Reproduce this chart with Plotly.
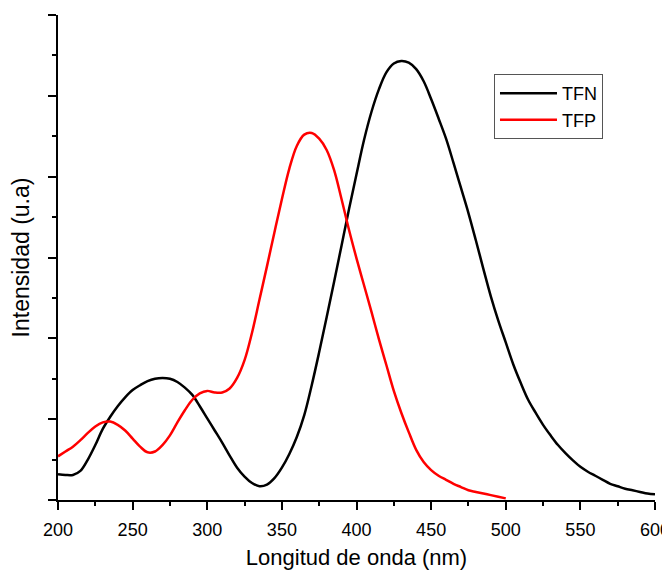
import plotly.graph_objects as go

# Wavelength grid (nm) and readings
wl_tfn = list(range(200, 601, 5))
tfn = [0.32, 0.31, 0.31, 0.36, 0.50, 0.68, 0.88, 1.03, 1.16, 1.27, 1.36, 1.42, 1.47, 1.50, 1.51, 1.50,
       1.46, 1.39, 1.30, 1.16, 1.01, 0.86, 0.71, 0.55, 0.40, 0.29, 0.21, 0.17, 0.19, 0.27, 0.40, 0.57,
       0.78, 1.05, 1.42, 1.83, 2.26, 2.70, 3.15, 3.60, 4.03, 4.45, 4.80, 5.08, 5.29, 5.40, 5.43, 5.41,
       5.33, 5.18, 4.96, 4.72, 4.47, 4.17, 3.86, 3.55, 3.21, 2.86, 2.52, 2.22, 1.95, 1.68, 1.45, 1.24,
       1.08, 0.93, 0.80, 0.68, 0.58, 0.49, 0.41, 0.35, 0.30, 0.25, 0.20, 0.17, 0.14, 0.12, 0.10, 0.08, 0.07]

wl_tfp = list(range(200, 501, 5))
tfp = [0.54, 0.60, 0.66, 0.74, 0.83, 0.91, 0.96, 0.97, 0.93, 0.86, 0.76, 0.66, 0.59, 0.60, 0.68, 0.80,
       0.96, 1.11, 1.24, 1.32, 1.35, 1.33, 1.33, 1.38, 1.51, 1.73, 2.07, 2.48, 2.89, 3.31, 3.72, 4.10,
       4.38, 4.52, 4.54, 4.47, 4.33, 4.08, 3.72, 3.34, 2.99, 2.66, 2.33, 1.99, 1.67, 1.35, 1.08, 0.84,
       0.62, 0.47, 0.37, 0.30, 0.25, 0.20, 0.16, 0.12, 0.10, 0.08, 0.06, 0.04, 0.02]

x_ticks = [200, 250, 300, 350, 400, 450, 500, 550, 600]

fig = go.Figure()
fig.add_trace(go.Scatter(x=wl_tfn, y=tfn, mode="lines", name="TFN",
                         line=dict(color="black", width=2.5, shape="spline", smoothing=1.0)))
fig.add_trace(go.Scatter(x=wl_tfp, y=tfp, mode="lines", name="TFP",
                         line=dict(color="#ff0000", width=2.5, shape="spline", smoothing=1.0)))

fig.update_layout(
    width=662, height=562,
    margin=dict(l=50, r=15, t=7, b=70),
    paper_bgcolor="white", plot_bgcolor="white",
    font=dict(family="Liberation Sans, Arial, sans-serif", color="black"),
    xaxis=dict(range=[200, 600], tickvals=x_ticks, ticks="outside", ticklen=8, tickwidth=1.5,
               tickcolor="black", showline=True, linecolor="black", linewidth=1.5, automargin=False,
               showgrid=False, zeroline=False, tickfont=dict(size=18), ticklabelstandoff=5,
               ticklabeloverflow="allow",
               title=dict(text="Longitud de onda (nm)", font=dict(size=22), standoff=13),
               minor=dict(dtick=25, tick0=200, ticks="outside", ticklen=4, tickwidth=1.5, tickcolor="black",
                          showgrid=False)),
    yaxis=dict(range=[0, 6], dtick=1, tick0=0, ticks="outside", ticklen=8, tickwidth=1.5,
               tickcolor="black", showline=True, linecolor="black", linewidth=1.5, automargin=False,
               showgrid=False, zeroline=False, showticklabels=False,
               title=dict(text="Intensidad (u.a)", font=dict(size=23), standoff=12),
               minor=dict(dtick=0.5, tick0=0, ticks="outside", ticklen=4, tickwidth=1.5, tickcolor="black",
                          showgrid=False)),
    legend=dict(x=0.7303, y=0.878, xanchor="left", yanchor="top", bgcolor="white",
                bordercolor="#555555", borderwidth=1, font=dict(size=18), tracegroupgap=0,
                itemwidth=57),
)

fig.write_html("out.html")
